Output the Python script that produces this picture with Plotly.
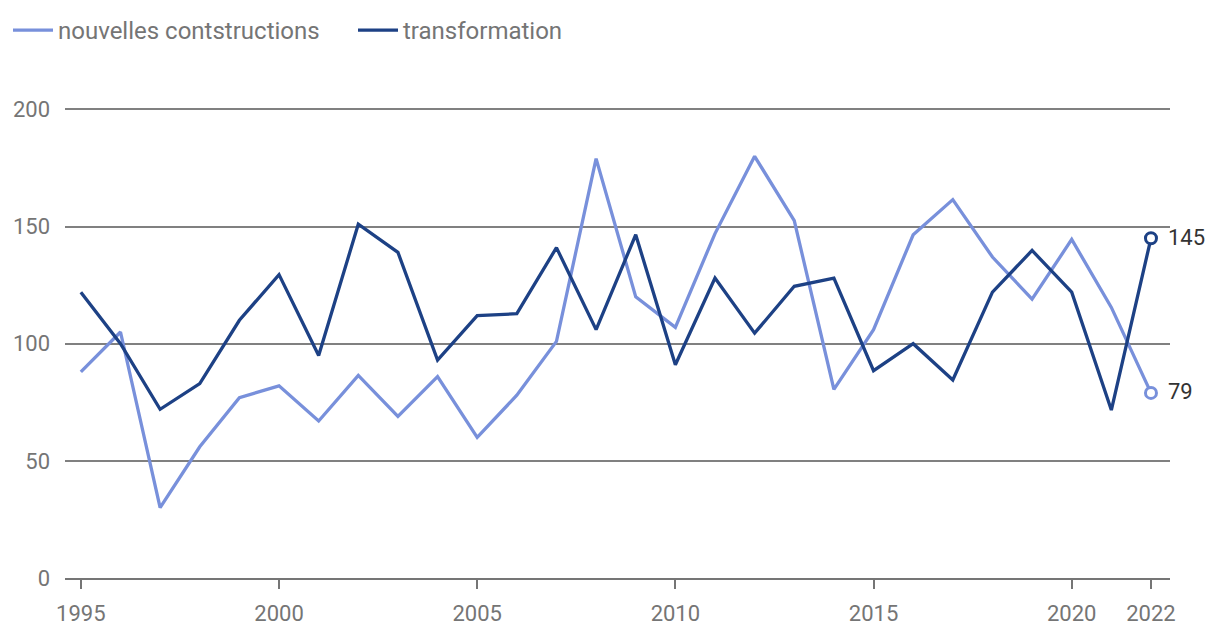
import plotly.graph_objects as go

years = list(range(1995, 2023))
nouvelles = [88, 105, 30, 56, 77, 82, 67, 86.5, 69, 86, 60, 78, 101, 179, 120, 107,
             147, 180, 152.5, 80.5, 106, 146.5, 161.5, 137, 119, 144.5, 115.5, 79]
transformation = [122, 100, 72, 83, 110, 129.5, 95, 151, 139, 93, 112, 112.8, 141, 106, 146.5, 91,
                  128, 104.5, 124.5, 128, 88.5, 100, 84.5, 122, 139.8, 122, 71.7, 145]
tick_years = [1995, 2000, 2005, 2010, 2015, 2020, 2022]

light = "#7890db"
dark = "#1d4185"
font = "Roboto"

fig = go.Figure()
fig.add_trace(go.Scatter(x=years, y=nouvelles, mode="lines", name="nouvelles contstructions",
                         line=dict(color=light, width=3.3)))
fig.add_trace(go.Scatter(x=years, y=transformation, mode="lines", name="transformation",
                         line=dict(color=dark, width=3.3)))
# end markers
for ser, col in [(nouvelles, light), (transformation, dark)]:
    fig.add_trace(go.Scatter(x=[years[-1]], y=[ser[-1]], mode="markers", showlegend=False,
                             marker=dict(size=11, color="white", line=dict(color=col, width=3)),
                             cliponaxis=False))
    fig.add_annotation(x=years[-1], y=ser[-1], text=str(round(ser[-1])), showarrow=False,
                       xanchor="left", xshift=15, yshift=1,
                       font=dict(family=font, size=22, color="#333333"))

fig.update_layout(
    width=1220, height=640,
    margin=dict(l=57, r=58, t=100, b=70),
    plot_bgcolor="white", paper_bgcolor="white",
    font=dict(family=font, size=22, color="#757575"),
    showlegend=True,
    legend=dict(orientation="h", xref="container", yref="container", x=0.0, y=1.0,
                xanchor="left", yanchor="top", font=dict(family=font, size=24, color="#757575"),
                itemwidth=40, entrywidth=290, entrywidthmode="pixels",
                bgcolor="rgba(0,0,0,0)"),
    xaxis=dict(range=[1994.6, 2022.48], tickvals=tick_years, ticktext=[str(t) for t in tick_years],
               showgrid=False, zeroline=False, showline=True, linecolor="#757575", linewidth=2,
               ticks="outside", ticklen=9, tickwidth=2, tickcolor="#757575", automargin=False,
               ticklabelstandoff=6,
               tickfont=dict(family=font, size=22, color="#757575")),
    yaxis=dict(range=[0, 200.6], tickvals=[0, 50, 100, 150, 200], showgrid=True,
               gridcolor="#808080", gridwidth=1.5, zeroline=False, showline=False,
               ticks="", ticklabelstandoff=14, automargin=False,
               tickfont=dict(family=font, size=22, color="#757575")),
)

fig.write_html("out.html")
